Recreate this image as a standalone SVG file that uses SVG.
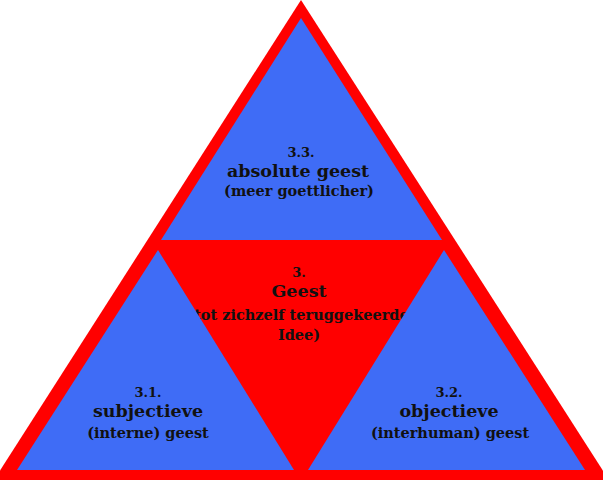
<svg xmlns="http://www.w3.org/2000/svg" width="603" height="480" viewBox="0 0 603 480">
<style>
.blue{fill:#3f6cf6}
.red{fill:#ff0000}
text{font-family:"DejaVu Serif","Liberation Serif",serif;font-weight:bold;fill:#111;text-anchor:middle}
.n{font-size:13px}
.t{font-size:17.5px}
.s{font-size:14.5px}
</style>
<rect width="603" height="480" fill="#fff"/>
<g id="outer"><polygon class="red" points="301,0 -6,480 609,480"/></g>
<g id="top">
<polygon class="blue" points="301,18 161,240 442,240"/>
<text class="n" x="301" y="157">3.3.</text>
<text class="t" x="298" y="177">absolute geest</text>
<text class="s" x="299" y="196">(meer goettlicher)</text>
</g>
<g id="center">
<text class="n" x="299" y="277">3.</text>
<text class="t" x="299" y="297">Geest</text>
<text class="s" x="298" y="320">(tot zichzelf teruggekeerde</text>
<text class="s" x="299" y="340">Idee)</text>
</g>
<g id="left">
<polygon class="blue" points="158,250 17,470 294,470"/>
<text class="n" x="148" y="397">3.1.</text>
<text class="t" x="148" y="417">subjectieve</text>
<text class="s" x="148" y="438">(interne) geest</text>
</g>
<g id="right">
<polygon class="blue" points="444,250 308,470 585,470"/>
<text class="n" x="449" y="397">3.2.</text>
<text class="t" x="449" y="417">objectieve</text>
<text class="s" x="450" y="438">(interhuman) geest</text>
</g>
<g id="connectors"></g>
</svg>
